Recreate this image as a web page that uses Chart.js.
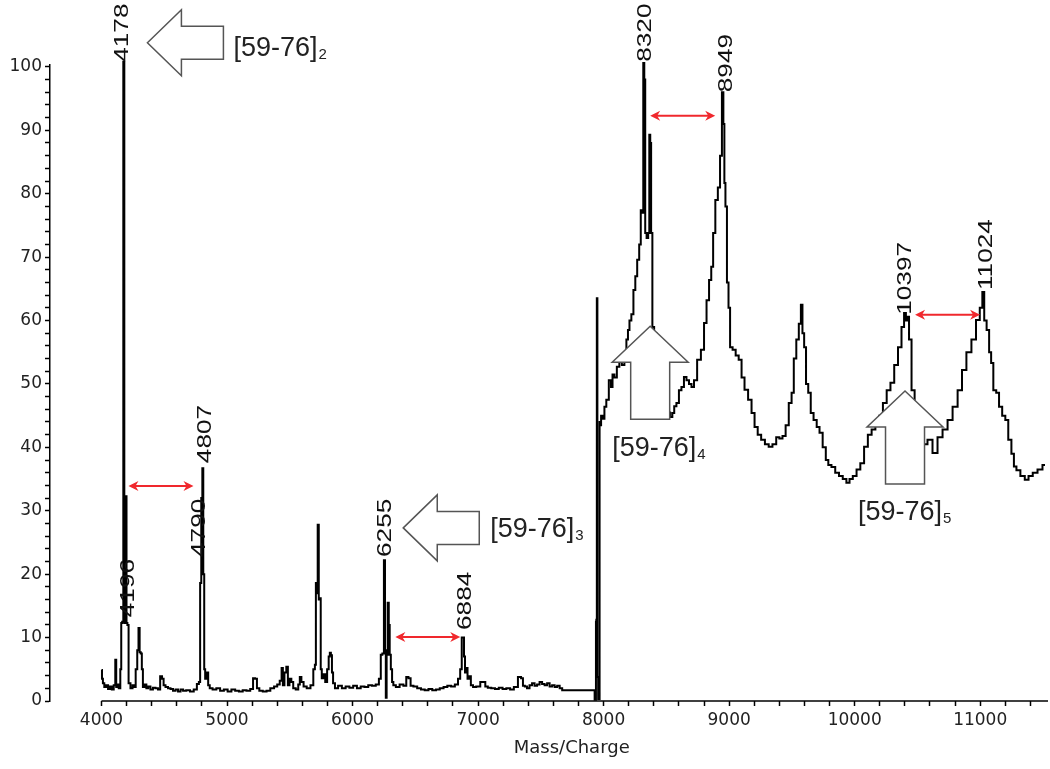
<!DOCTYPE html>
<html>
<head>
<meta charset="utf-8">
<script src="https://cdn.jsdelivr.net/npm/chart.js@4/dist/chart.umd.min.js"></script>
<style>
  html, body { margin: 0; padding: 0; background: #fff; }
  #wrap { width: 1050px; height: 769px; }
</style>
</head>
<body>
<div id="wrap"><canvas id="myChart" width="1050" height="769"></canvas></div>
<script>
// spectrum below 7930 (dimer / trimer region)
var lowMz = [
  4000, 4008, 4015, 4030, 4045, 4060, 4075, 4090, 4105, 4115,
  4120, 4130, 4145, 4155, 4160, 4170, 4178, 4186, 4196, 4203,
  4210, 4222, 4240, 4255, 4265, 4280, 4290, 4300, 4308, 4318,
  4325, 4335, 4350, 4365, 4380, 4400, 4420, 4440, 4460, 4475,
  4490, 4500, 4520, 4540, 4560, 4580, 4600, 4620, 4640, 4660,
  4690, 4720, 4750, 4770, 4782, 4790, 4800, 4807, 4815, 4822,
  4830, 4845, 4855, 4870, 4900, 4930, 4960, 4990, 5020, 5050,
  5080, 5110, 5140, 5170, 5200, 5215, 5232, 5245, 5270, 5300,
  5330, 5360, 5390, 5410, 5430, 5440, 5450, 5465, 5480, 5490,
  5505, 5520, 5535, 5560, 5575, 5585, 5600, 5620, 5650, 5680,
  5695, 5705, 5711, 5718, 5727, 5735, 5743, 5750, 5760, 5775,
  5790, 5805, 5815, 5823, 5832, 5840, 5850, 5870, 5900, 5930,
  5960, 5990, 6020, 6050, 6080, 6110, 6140, 6170, 6200, 6220,
  6230, 6245, 6255, 6262, 6268, 6275, 6285, 6292, 6300, 6310,
  6320, 6330, 6360, 6390, 6420, 6436, 6455, 6470, 6500, 6530,
  6560, 6590, 6620, 6650, 6680, 6710, 6740, 6770, 6800, 6830,
  6850, 6865, 6875, 6884, 6892, 6900, 6912, 6920, 6935, 6950,
  6970, 7000, 7035, 7050, 7065, 7090, 7120, 7150, 7180, 7210,
  7240, 7270, 7300, 7335, 7350, 7365, 7380, 7400, 7420, 7440,
  7460, 7480, 7500, 7520, 7540, 7560, 7580, 7600, 7620, 7640,
  7660, 7680, 7700, 7925
];
var lowIntensity = [
  4.9, 3.5, 2.8, 2.2, 2.5, 1.9, 2.3, 1.8, 2.5, 6.5,
  2.2, 2.6, 2.0, 5.0, 12.3, 12.5, 100.8, 12.3, 32.3, 12.3,
  12.0, 2.8, 2.0, 2.5, 2.2, 5.0, 8.0, 11.5, 7.7, 7.5,
  5.0, 2.2, 2.6, 2.0, 2.3, 1.8, 2.1, 2.0, 1.8, 3.9,
  3.5, 2.5, 2.2, 2.0, 1.9, 1.6, 1.8, 1.5, 1.8, 1.6,
  1.7, 1.5, 1.8, 2.7, 3.0, 18.6, 32.0, 36.7, 20.0, 5.0,
  3.5, 4.5, 2.5, 2.0, 1.8, 2.0, 1.6, 1.8, 1.5, 1.8,
  1.6, 1.5, 1.7, 1.6, 1.9, 3.6, 3.5, 2.0, 1.6, 1.5,
  1.6, 2.0, 2.3, 2.6, 3.2, 5.2, 2.5, 4.5, 5.4, 2.5,
  3.5, 3.0, 2.0, 1.8, 2.6, 3.8, 3.0, 2.3, 2.0, 2.5,
  5.0, 5.7, 18.6, 17.0, 27.8, 16.0, 16.2, 5.0, 3.6, 4.2,
  3.0, 5.0, 7.0, 7.6, 7.2, 4.5, 2.8, 2.0, 2.4, 2.0,
  2.3, 2.1, 2.4, 2.0, 2.3, 2.2, 2.5, 2.4, 2.6, 3.5,
  7.3, 7.5, 22.2, 8.0, 0.5, 7.3, 15.5, 12.0, 7.3, 5.0,
  3.0, 2.5, 2.2, 2.6, 2.4, 3.8, 3.6, 2.4, 2.3, 2.0,
  1.8, 1.7, 1.9, 1.7, 1.8, 2.0, 2.2, 2.4, 2.3, 2.6,
  3.5, 5.0, 10.0, 10.0, 7.0, 4.5, 5.2, 3.5, 3.9, 2.5,
  2.2, 2.3, 3.0, 3.0, 2.3, 2.1, 2.0, 1.9, 2.1, 1.9,
  2.0, 1.8, 2.2, 3.8, 3.6, 2.4, 2.3, 2.0, 2.5, 2.8,
  2.4, 2.6, 3.0, 2.7, 2.5, 2.8, 2.3, 2.5, 2.2, 2.4,
  2.0, 1.7, 1.7, 1.7
];

// spectrum from 7930 up (tetramer / pentamer region)
var highMz = [
  7932, 7938, 7940, 7944, 7948, 7953, 7960, 7966, 7970, 7975,
  7985, 8000, 8013, 8030, 8053, 8065, 8077, 8095, 8116, 8135,
  8156, 8175, 8188, 8200, 8212, 8230, 8245, 8260, 8275, 8292,
  8300, 8312, 8320, 8328, 8335, 8350, 8360, 8368, 8375, 8382,
  8395, 8410, 8430, 8460, 8490, 8520, 8540, 8555, 8570, 8590,
  8610, 8630, 8650, 8670, 8690, 8710, 8730, 8760, 8790, 8810,
  8830, 8850, 8865, 8880, 8900, 8920, 8935, 8950, 8958, 8966,
  8975, 8990, 9000, 9015, 9040, 9064, 9088, 9110, 9135, 9167,
  9190, 9215, 9240, 9270, 9300, 9330, 9360, 9390, 9410, 9440,
  9460, 9490, 9505, 9525, 9545, 9565, 9578, 9590, 9605, 9620,
  9640, 9660, 9685, 9710, 9730, 9760, 9780, 9800, 9830, 9860,
  9890, 9920, 9948, 9970, 10000, 10030, 10060, 10090, 10120, 10150,
  10180, 10210, 10240, 10270, 10300, 10330, 10360, 10386, 10401, 10415,
  10425, 10441, 10465, 10490, 10520, 10560, 10600, 10640, 10680, 10720,
  10760, 10800, 10840, 10870, 10910, 10950, 10983, 11010, 11024, 11040,
  11062, 11080, 11094, 11115, 11140, 11160, 11190, 11210, 11237, 11260,
  11277, 11300, 11340, 11370, 11400, 11437, 11476, 11516
];
var highIntensity = [
  0.2, 0.2, 12.5, 12.8, 63.5, 3.8, 0.3, 0.3, 44.0, 43.5,
  45.0, 44.5, 46.4, 47.5, 50.6, 49.5, 51.5, 51.0, 52.7, 53.5,
  53.0, 55.0, 57.0, 58.5, 60.0, 61.0, 64.8, 67.0, 69.6, 72.0,
  77.4, 77.0, 100.6, 98.0, 73.8, 73.0, 73.8, 89.3, 88.0, 73.8,
  59.0, 58.0, 56.0, 52.0, 48.0, 45.5, 44.8, 45.4, 46.5, 47.0,
  49.0, 49.5, 51.1, 50.6, 50.0, 49.5, 50.6, 53.8, 55.4, 59.6,
  63.2, 66.4, 68.5, 73.8, 79.0, 81.0, 86.0, 96.0, 91.0, 81.7,
  78.0, 66.0, 62.0, 55.8, 55.4, 54.5, 53.8, 51.0, 49.1, 47.5,
  45.4, 43.2, 42.0, 41.2, 40.5, 40.1, 40.5, 41.6, 41.4, 41.8,
  43.5, 47.0, 48.6, 54.0, 57.0, 59.5, 62.5, 58.0, 55.8, 50.0,
  48.6, 45.4, 44.3, 43.2, 42.3, 40.0, 38.0, 37.2, 36.9, 36.0,
  35.5, 35.0, 34.4, 35.0, 35.5, 36.5, 37.5, 40.1, 42.0, 42.8,
  43.5, 45.0, 47.0, 49.0, 50.2, 53.0, 55.8, 59.0, 61.2, 60.0,
  60.6, 57.0, 49.0, 44.0, 42.0, 40.5, 41.2, 39.1, 41.6, 42.8,
  44.3, 46.4, 49.0, 52.2, 55.0, 57.0, 60.1, 62.0, 64.5, 60.0,
  58.5, 55.0, 53.3, 49.0, 48.6, 46.4, 45.0, 44.3, 41.2, 39.0,
  37.0, 36.4, 35.5, 34.9, 35.5, 36.0, 36.5, 37.2
];

var xTickLabels = ["4000", "5000", "6000", "7000", "8000", "9000", "10000", "11000"];
var yTickLabels = ["0", "10", "20", "30", "40", "50", "60", "70", "80", "90", "100"];

// rotated peak labels: text, m/z of text centre, intensity at text start
var peakLabels = ["4178", "4196", "4790", "4807", "6255", "6884", "8320", "8949", "10397", "11024"];
var peakLabelMz = [4155, 4199, 4764, 4812, 6245, 6882, 8315, 8962, 10386, 11031];
var peakLabelY = [100.8, 13.2, 22.7, 37.5, 22.7, 11.2, 100.8, 96.0, 60.9, 64.8];

// red double arrows between successive oligomers
var spacingFrom = [4215, 6341, 8371, 10481];
var spacingTo = [4733, 6858, 8889, 10999];
var spacingY = [33.9, 10.1, 92.3, 60.9];

// block arrows pointing at each oligomer series
var seriesNames = ["2", "3", "4", "5"];
var seriesArrowDir = ["left", "left", "up", "up"];
var seriesArrowMz = [4366, 6404, 8371, 10401];
var seriesArrowY = [103.8, 27.3, 59.1, 48.9];
var seriesTextMz = [5051, 7097, 8069, 10027];
var seriesTextY = [103.2, 27.4, 40.1, 30.1];

var points = [];
for (var i = 0; i < lowMz.length; i++) points.push({ x: lowMz[i], y: lowIntensity[i] });
for (var j = 0; j < highMz.length; j++) points.push({ x: highMz[j], y: highIntensity[j] });

var FONT = "'Liberation Sans', Arial, sans-serif";
var AXIS_FONT = "'DejaVu Sans', sans-serif";

function blockArrow(ctx, tx, ty, dir) {
  var headLen = 34, headHalf = 33, shaftLen = 42, shaftHalf = 16.5;
  if (dir === "up") { headLen = 36; headHalf = 38; shaftLen = 57; shaftHalf = 19.5; }
  ctx.beginPath();
  if (dir === "left") {
    ctx.moveTo(tx, ty);
    ctx.lineTo(tx + headLen, ty - headHalf);
    ctx.lineTo(tx + headLen, ty - shaftHalf);
    ctx.lineTo(tx + headLen + shaftLen, ty - shaftHalf);
    ctx.lineTo(tx + headLen + shaftLen, ty + shaftHalf);
    ctx.lineTo(tx + headLen, ty + shaftHalf);
    ctx.lineTo(tx + headLen, ty + headHalf);
  } else {
    ctx.moveTo(tx, ty);
    ctx.lineTo(tx + headHalf, ty + headLen);
    ctx.lineTo(tx + shaftHalf, ty + headLen);
    ctx.lineTo(tx + shaftHalf, ty + headLen + shaftLen);
    ctx.lineTo(tx - shaftHalf, ty + headLen + shaftLen);
    ctx.lineTo(tx - shaftHalf, ty + headLen);
    ctx.lineTo(tx - headHalf, ty + headLen);
  }
  ctx.closePath();
  ctx.fillStyle = "#fff";
  ctx.fill();
  ctx.strokeStyle = "#555";
  ctx.lineWidth = 1.5;
  ctx.stroke();
}

function doubleArrow(ctx, x1, x2, y) {
  var head = 10, half = 5;
  ctx.strokeStyle = "#f0282d";
  ctx.fillStyle = "#f0282d";
  ctx.lineWidth = 2;
  ctx.beginPath();
  ctx.moveTo(x1 + 4, y);
  ctx.lineTo(x2 - 4, y);
  ctx.stroke();
  ctx.beginPath();
  ctx.moveTo(x1, y);
  ctx.lineTo(x1 + head, y - half);
  ctx.lineTo(x1 + head - 3, y);
  ctx.lineTo(x1 + head, y + half);
  ctx.closePath();
  ctx.fill();
  ctx.beginPath();
  ctx.moveTo(x2, y);
  ctx.lineTo(x2 - head, y - half);
  ctx.lineTo(x2 - head + 3, y);
  ctx.lineTo(x2 - head, y + half);
  ctx.closePath();
  ctx.fill();
}

var annotations = {
  id: "annotations",
  afterDatasetsDraw: function (chart) {
    var ctx = chart.ctx;
    var xs = chart.scales.x, ys = chart.scales.y;
    var area = chart.chartArea;
    var startX = xs.getPixelForValue(4000);

    ctx.save();
    // x axis line only from 4000 on, like the original
    ctx.strokeStyle = "#000";
    ctx.lineWidth = 1.5;
    ctx.beginPath();
    ctx.moveTo(startX, area.bottom);
    ctx.lineTo(area.right, area.bottom);
    ctx.stroke();

    ctx.fillStyle = "#222";
    ctx.font = "18px " + AXIS_FONT;
    ctx.textAlign = "center";
    ctx.textBaseline = "middle";
    ctx.fillText("Mass/Charge", (startX + area.right) / 2 - 3, area.bottom + 47);

    for (var k = 0; k < seriesNames.length; k++) {
      blockArrow(ctx, xs.getPixelForValue(seriesArrowMz[k]), ys.getPixelForValue(seriesArrowY[k]), seriesArrowDir[k]);
      var tx = xs.getPixelForValue(seriesTextMz[k]);
      var ty = ys.getPixelForValue(seriesTextY[k]) + 9.6;
      ctx.fillStyle = "#222";
      ctx.textAlign = "left";
      ctx.textBaseline = "alphabetic";
      ctx.font = "27px " + FONT;
      ctx.fillText("[59-76]", tx, ty);
      var w = ctx.measureText("[59-76]").width;
      ctx.font = "15px " + FONT;
      ctx.fillText(seriesNames[k], tx + w + 1, ty + 3);
    }

    for (var i = 0; i < spacingFrom.length; i++) {
      doubleArrow(ctx, xs.getPixelForValue(spacingFrom[i]), xs.getPixelForValue(spacingTo[i]), ys.getPixelForValue(spacingY[i]));
    }

    ctx.fillStyle = "#111";
    ctx.font = "21px " + FONT;
    ctx.textAlign = "left";
    ctx.textBaseline = "alphabetic";
    for (var p = 0; p < peakLabels.length; p++) {
      ctx.save();
      ctx.translate(xs.getPixelForValue(peakLabelMz[p]), ys.getPixelForValue(peakLabelY[p]));
      ctx.rotate(-Math.PI / 2);
      ctx.scale(1.25, 1);
      ctx.fillText(peakLabels[p], 0, 7.5);
      ctx.restore();
    }
    ctx.restore();
  }
};

new Chart(document.getElementById("myChart").getContext("2d"), {
  type: "line",
  data: {
    datasets: [{
      data: points,
      borderColor: "#000",
      borderWidth: 2,
      pointRadius: 0,
      stepped: "middle",
      fill: false,
      clip: false
    }]
  },
  options: {
    responsive: false,
    animation: false,
    layout: { padding: { top: 65, right: 2, left: 0, bottom: 0 } },
    plugins: { legend: { display: false }, tooltip: { enabled: false } },
    scales: {
      x: {
        type: "linear",
        min: 3590,
        max: 11540,
        afterFit: function (scale) { scale.height = 68; },
        border: { display: false },
        grid: {
          drawOnChartArea: false,
          tickLength: 5,
          tickWidth: 1.5,
          tickColor: function (c) { return c.tick && c.tick.value >= 4000 ? "#000" : "rgba(0,0,0,0)"; }
        },
        ticks: {
          stepSize: 200,
          includeBounds: false,
          autoSkip: false,
          maxRotation: 0,
          padding: 4,
          color: "#222",
          font: { family: AXIS_FONT, size: 17 },
          callback: function (v) {
            var s = String(v);
            return xTickLabels.indexOf(s) >= 0 ? s : "";
          }
        }
      },
      y: {
        type: "linear",
        min: 0,
        max: 100.3,
        afterFit: function (scale) { scale.width = 50; },
        border: { display: true, color: "#000", width: 1.5 },
        grid: { drawOnChartArea: false, tickLength: 5, tickWidth: 1.5, tickColor: "#000" },
        ticks: {
          stepSize: 2,
          includeBounds: false,
          autoSkip: false,
          padding: 3,
          color: "#222",
          font: { family: AXIS_FONT, size: 17 },
          callback: function (v) {
            var s = String(v);
            return yTickLabels.indexOf(s) >= 0 ? s : "";
          }
        }
      }
    }
  },
  plugins: [annotations]
});
</script>
</body>
</html>
